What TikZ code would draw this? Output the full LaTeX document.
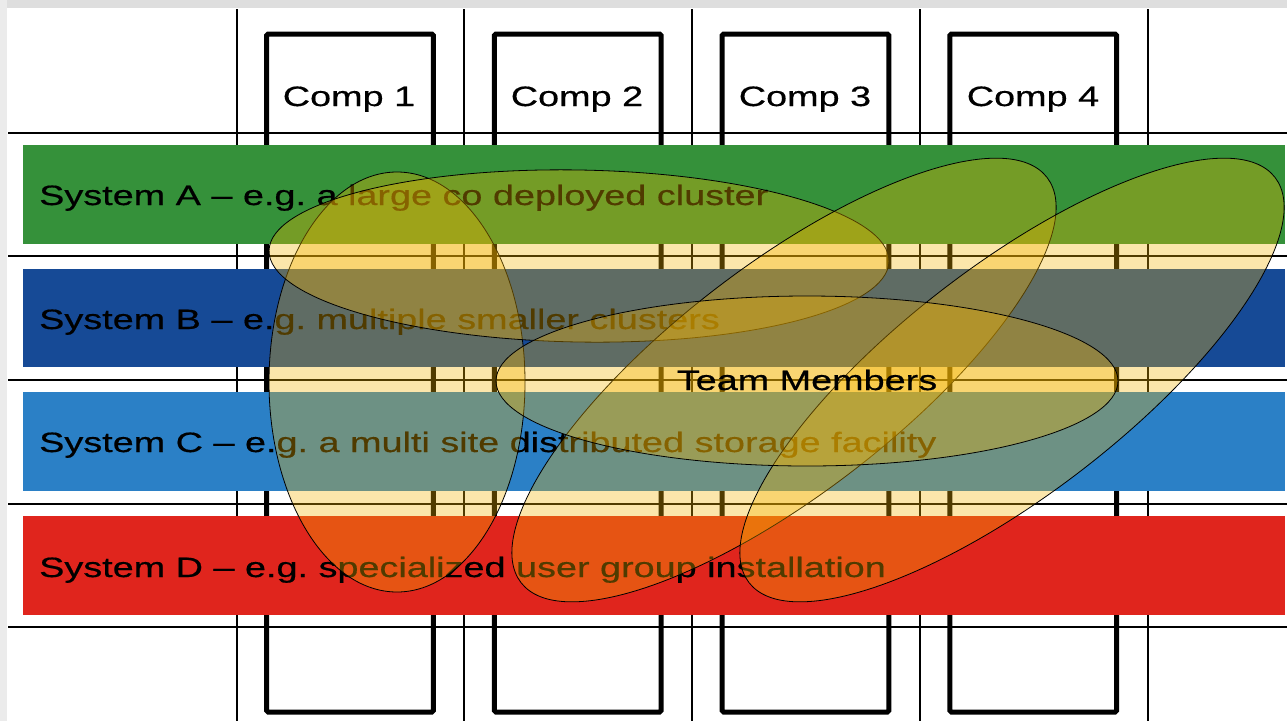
\documentclass[tikz,border=0pt]{standalone}
\usepackage{fontspec}
\setmainfont{Liberation Sans}
\newfontfamily\widesans[FakeStretch=1.35,FakeBold=0.5]{Liberation Sans}
\frenchspacing
\definecolor{bandA}{RGB}{53,145,58}
\definecolor{bandB}{RGB}{22,74,150}
\definecolor{bandC}{RGB}{43,128,198}
\definecolor{bandD}{RGB}{224,37,29}
\definecolor{blobfill}{RGB}{245,180,0}
\definecolor{edgegray}{RGB}{222,222,222}
\tikzset{
  gridline/.style={line width=2pt, black},
  compbox/.style={line width=5pt, black, rounded corners=1.5pt},
  bandtext/.style={anchor=base west, inner sep=0pt, font=\widesans\fontsize{28}{32}\selectfont, text=black},
  complabel/.style={anchor=base, inner sep=0pt, font=\widesans\fontsize{28}{32}\selectfont, text=black},
  blob/.style={fill=blobfill, fill opacity=0.33, draw=black, draw opacity=1, line width=0.8pt},
}
\begin{document}
\begin{tikzpicture}[x=1pt,y=-1pt]
\useasboundingbox (0,0) rectangle (1287,721);
\fill[white] (0,0) rectangle (1287,721);
% soft grey slide edge
\fill[edgegray] (0,0) rectangle (1287,8);
\fill[edgegray!60] (0,0) rectangle (7,721);
% grid lines
\foreach \i in {0,...,4} {
  \draw[gridline] (236.7+227.75*\i,9) -- (236.7+227.75*\i,721);
}
\foreach \j in {0,...,4} {
  \draw[gridline] (8,132.7+123.65*\j) -- (1287,132.7+123.65*\j);
}
% component boxes
\foreach \i in {0,...,3} {
  \draw[compbox] (266.7+227.75*\i,34) rectangle (433.3+227.75*\i,712);
}
\node[complabel] (c1) at (349,106) {Comp 1};
\node[complabel] (c2) at (577,106) {Comp 2};
\node[complabel] (c3) at (805,106) {Comp 3};
\node[complabel] (c4) at (1033,106) {Comp 4};
% system bands
\fill[bandA] (23,145) rectangle (1285,244);
\fill[bandB] (23,269) rectangle (1285,367);
\fill[bandC] (23,392) rectangle (1285,491);
\fill[bandD] (23,516) rectangle (1285,615);
\node[bandtext] (sA) at (39,205) {System A – e.g. a large co deployed cluster};
\node[bandtext] (sB) at (39,329) {System B – e.g. multiple smaller clusters};
\node[bandtext] (sC) at (39,452) {System C – e.g. a multi site distributed storage facility};
\node[bandtext] (sD) at (39,577) {System D – e.g. specialized user group installation};
% team member groupings
\draw[blob] (397,382) ellipse [x radius=128pt, y radius=210pt];
\draw[blob, rotate around={-1:(579,256)}] (579,256) ellipse [x radius=310pt, y radius=86pt];
\draw[blob, rotate around={37.6:(784,380)}] (784,380) ellipse [x radius=332pt, y radius=114pt];
\draw[blob, rotate around={37.6:(1012,380)}] (1012,380) ellipse [x radius=332pt, y radius=114pt];
\draw[blob] (807,381) ellipse [x radius=311pt, y radius=85pt];
\node[complabel] (team) at (807,390) {Team Members};
\end{tikzpicture}
\end{document}
